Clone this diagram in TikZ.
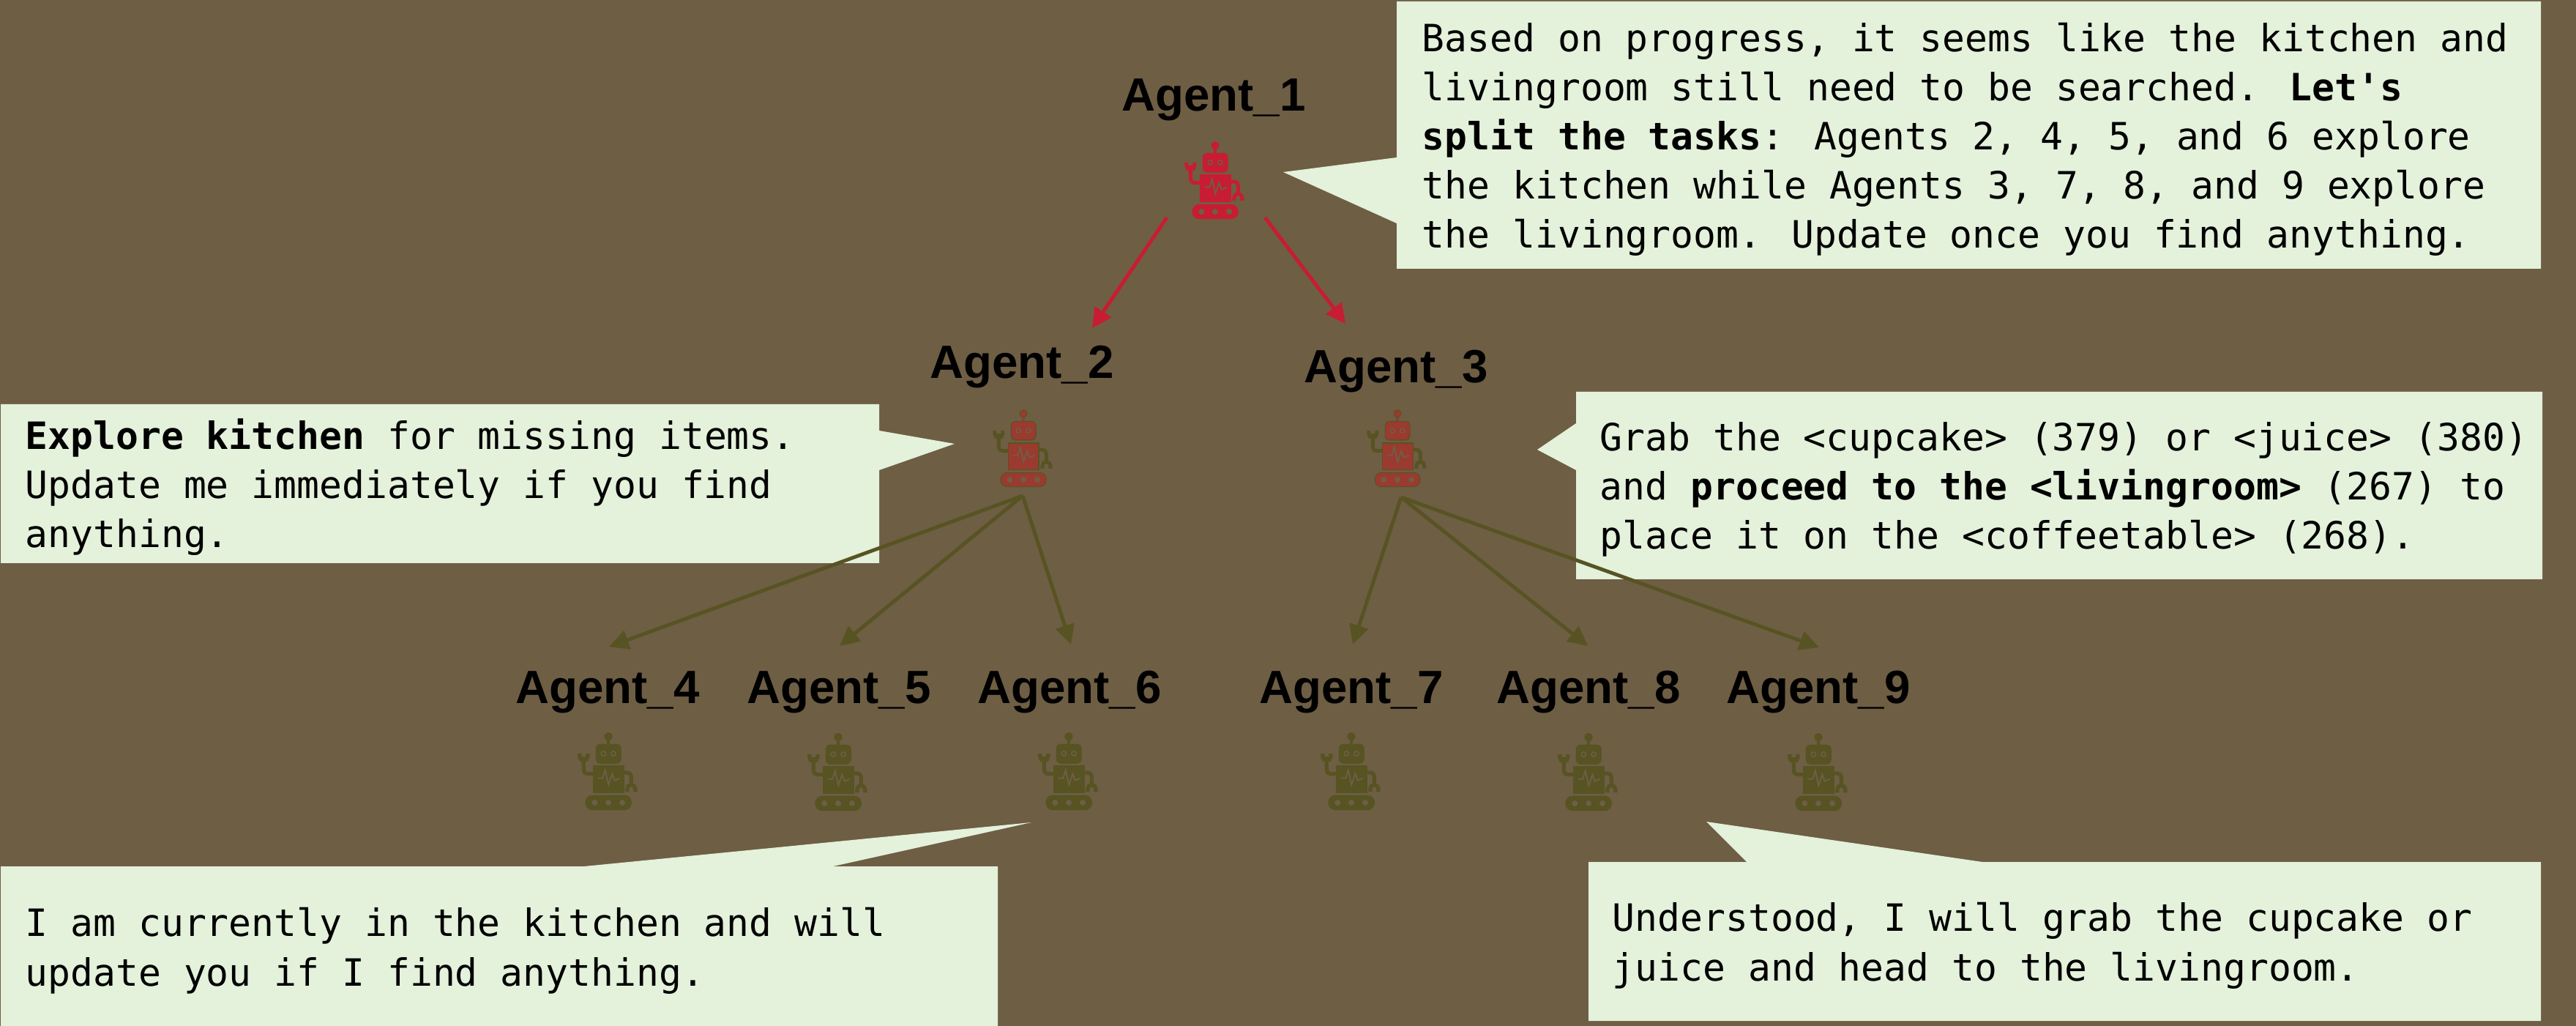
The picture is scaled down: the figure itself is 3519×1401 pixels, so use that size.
\documentclass[tikz,border=0pt]{standalone}
\usepackage{fontspec}
\usetikzlibrary{arrows.meta}
\newfontfamily\agentfont{Liberation Sans}
\newfontfamily\sayfont{DejaVu Sans Mono}
\definecolor{cground}{HTML}{6E5E44}
\definecolor{cbubble}{HTML}{E4F1DB}
\definecolor{cred}{HTML}{C81C32}
\definecolor{colive}{HTML}{575323}
\definecolor{cmid}{HTML}{9B3A2E}
\tikzset{
  agentname/.style={font=\agentfont\fontsize{18.1pt}{20pt}\selectfont\bfseries, anchor=base, inner sep=0pt},
  saytext/.style={font=\sayfont\fontsize{14.6pt}{19.06pt}\selectfont, anchor=base west, inner sep=0pt, align=left},
  redarrow/.style={-{Triangle[length=7.6pt,width=7.4pt]}, cred, line width=1.4pt},
  olivearrow/.style={-{Triangle[length=7.6pt,width=7.4pt]}, colive, line width=1.4pt}
}
% one robot: x of the antenna, y of its top, fill, rim
\newcommand{\drawrobot}[4]{%
  \begin{scope}[shift={(#1,#2)}]
    % arms and claws
    \draw[#4, line width=1.4pt, rounded corners=1.5pt] (-20,55.7) -- (-33.7,55.7) -- (-33.7,32);
    \draw[#4, line width=1.4pt] (-39.2,28) -- (-39.2,32.3) arc[start angle=180, end angle=0, radius=5.5] -- (-28.2,28);
    \draw[#4, line width=1.4pt, rounded corners=1.5pt] (20,54) -- (31.3,54) -- (31.3,72);
    \draw[#4, line width=1.4pt] (25.8,80) -- (25.8,76) arc[start angle=180, end angle=360, radius=5.5] -- (36.8,80);
    % antenna, head, body, tracks
    \draw[#3, line width=0.9pt] (0,4) -- (0,16);
    \filldraw[fill=#3, draw=#4, line width=0.3pt] (0,4.7) circle (5);
    \filldraw[fill=#3, draw=#4, line width=0.3pt, rounded corners=1.5pt] (-16.7,15.3) rectangle (17,41);
    \filldraw[fill=#3, draw=#4, line width=0.3pt] (-20.3,45) rectangle (21,81.3);
    \filldraw[fill=#3, draw=#4, line width=0.3pt, rounded corners=2.7pt] (-31,85.3) rectangle (31.3,104.7);
    % eyes and the holes of the tracks
    \foreach \ex in {-6.7,7} {
      \fill[cground] (\ex,28) circle (4);
      \fill[#3] (\ex,28) circle (2.2);
    }
    \foreach \hx in {-18.7,0,19} \fill[cground] (\hx,95) circle (4);
    % the pulse on the chest
    \draw[cground, line width=0.55pt] (-14.3,61.7) -- (-7.7,61.7) -- (-4.3,50.7) -- (0.3,70.7) -- (5.3,55.7) -- (8.7,64.7) -- (15.7,61.7);
  \end{scope}
}

\begin{document}
\begin{tikzpicture}[x=0.01cm, y=-0.01cm]
\fill[cground] (0,0) rectangle (3519,1401);
\useasboundingbox (0,0) rectangle (3519,1401);
%% ------------------------------------------------------------------ bubbles
\fill[cbubble] (1908,2) -- (3471,2) -- (3471,367) -- (1908,367) -- (1908,305) -- (1753,235) -- (1908,215) -- cycle;
\fill[cbubble] (1,552) -- (1201,552) -- (1201,588) -- (1304,606) -- (1201,642) -- (1201,769) -- (1,769) -- cycle;
\fill[cbubble] (2153,535) -- (3473,535) -- (3473,791) -- (2153,791) -- (2153,642) -- (2100,614) -- (2153,578) -- cycle;
\fill[cbubble] (1,1183) -- (798,1183) -- (1409,1123) -- (1138,1183) -- (1363,1183) -- (1363,1401) -- (1,1401) -- cycle;
\fill[cbubble] (2170,1177) -- (2386,1177) -- (2331,1122) -- (2708,1177) -- (3471,1177) -- (3471,1394) -- (2170,1394) -- cycle;
% the base of a text is its last line
\node[saytext] (say1) at (1942,339) {Based on progress, it seems like the kitchen and\\livingroom still need to be searched. \textbf{Let's}\\\textbf{split the tasks}: Agents 2, 4, 5, and 6 explore\\the kitchen while Agents 3, 7, 8, and 9 explore\\the livingroom. Update once you find anything.};
\node[saytext] (say2) at (34,748) {\textbf{Explore kitchen} for missing items.\\Update me immediately if you find\\anything.};
\node[saytext] (say3) at (2185,750) {Grab the <cupcake> (379) or <juice> (380)\\and \textbf{proceed to the <livingroom>} (267) to\\place it on the <coffeetable> (268).};
\node[saytext] (say6) at (34,1346) {I am currently in the kitchen and will\\update you if I find anything.};
\node[saytext] (say7) at (2202,1339) {Understood, I will grab the cupcake or\\juice and head to the livingroom.};
%% ------------------------------------------------------------------ agents
\foreach \n/\x/\y in {1/1658/152, 2/1396/517, 3/1907/523, 4/830/960, 5/1146/960, 6/1461/960, 7/1846/960, 8/2170/960, 9/2484/960}
  \node[agentname] (agent\n) at (\x,\y) {Agent\_\n};
\drawrobot{1660}{194}{cred}{cred}
\foreach \x/\y in {1398/560, 1909/560} \drawrobot{\x}{\y}{cmid}{colive}
\foreach \x/\y in {831/1001, 1145/1002, 1460/1001, 1846/1001, 2170/1002, 2484/1002} \drawrobot{\x}{\y}{colive}{colive}
%% ------------------------------------------------------------------ arrows
\coordinate (outa) at (1594,297);
\coordinate (outb) at (1728,297);
\coordinate (out2) at (1397,677);
\coordinate (out3) at (1914,679);
\coordinate (in2) at (1492,448);
\coordinate (in3) at (1838,442);
\coordinate (in4) at (832,883);
\coordinate (in5) at (1147,882);
\coordinate (in6) at (1463,880);
\coordinate (in7) at (1848,880);
\coordinate (in8) at (2169,882);
\coordinate (in9) at (2485,884);
\draw[redarrow] (outa) -- (in2);
\draw[redarrow] (outb) -- (in3);
\foreach \n in {4,5,6} \draw[olivearrow] (out2) -- (in\n);
\foreach \n in {7,8,9} \draw[olivearrow] (out3) -- (in\n);
\end{tikzpicture}
\end{document}
